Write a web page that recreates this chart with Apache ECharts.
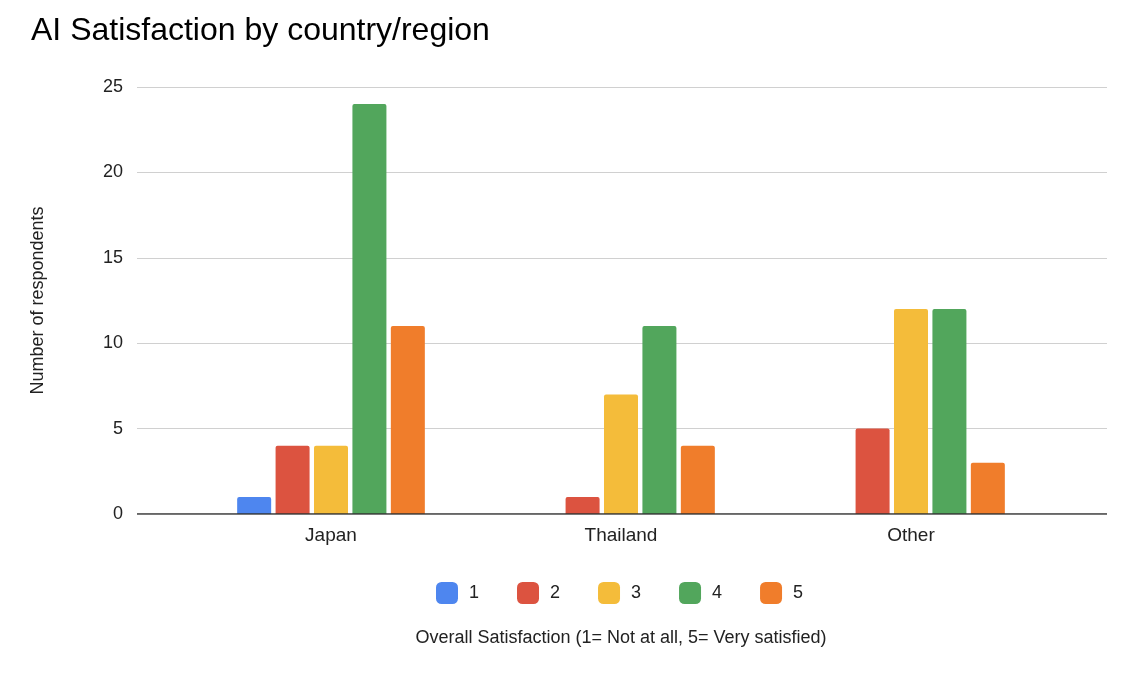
<!DOCTYPE html>
<html>
<head>
<meta charset="utf-8">
<script src="https://cdn.jsdelivr.net/npm/echarts@6/dist/echarts.min.js"></script>
<style>html,body{margin:0;padding:0;background:#fff}#main{width:1129px;height:676px}</style>
</head>
<body>
<div id="main"></div>
<script>
var categories = ['Japan', 'Thailand', 'Other'];
var seriesNames = ['1', '2', '3', '4', '5'];
var values = [
    [1, 0, 0],
    [4, 1, 5],
    [4, 7, 12],
    [24, 11, 12],
    [11, 4, 3]
];
var colors = ['#4e86ef', '#dc5340', '#f4bc3a', '#52a65c', '#f07d2b'];

var chart = echarts.init(document.getElementById('main'));
var font = 'Liberation Sans, Arial, sans-serif';

var series = [];
for (var i = 0; i < seriesNames.length; i++) {
    series.push({
        name: seriesNames[i],
        type: 'bar',
        xAxisIndex: 1,
        yAxisIndex: 1,
        barWidth: 34,
        barGap: '13%',
        itemStyle: { color: colors[i], borderRadius: [2, 2, 0, 0] },
        data: values[i]
    });
}

chart.setOption({
    textStyle: { fontFamily: font },
    title: {
        text: 'AI Satisfaction by country/region',
        left: 26, top: 10,
        textStyle: { fontSize: 32, fontWeight: 'normal', color: '#000', fontFamily: font }
    },
    legend: {
        data: seriesNames,
        top: 577, left: 431,
        icon: 'roundRect', itemWidth: 22, itemHeight: 22, itemGap: 38,
        textStyle: { fontSize: 18, color: '#222', padding: [0, 0, 0, 6] }
    },
    grid: [
        { left: 137, right: 22, top: 87, bottom: 162 },
        { left: 186, right: 73, top: 87, bottom: 162 }
    ],
    xAxis: [
        { type: 'value', gridIndex: 0, show: false, min: 0, max: 1 },
        {
            type: 'category', gridIndex: 1, data: categories,
            axisTick: { show: false }, axisLine: { show: false },
            axisLabel: { fontSize: 19, color: '#222', margin: 12 },
            name: 'Overall Satisfaction (1= Not at all, 5= Very satisfied)',
            nameLocation: 'middle', nameGap: 115,
            nameTextStyle: { fontSize: 18, color: '#222' }
        }
    ],
    yAxis: [
        {
            type: 'value', gridIndex: 0, min: 0, max: 25, interval: 5,
            axisLabel: { fontSize: 18, color: '#222', margin: 14 },
            splitLine: { lineStyle: { color: '#d0d0d0' } },
            axisLine: { show: false }, axisTick: { show: false },
            name: 'Number of respondents', nameLocation: 'middle', nameGap: 90,
            nameTextStyle: { fontSize: 18, color: '#222' }
        },
        { type: 'value', gridIndex: 1, min: 0, max: 25, interval: 5, show: false }
    ],
    series: series.concat([{
        type: 'line', xAxisIndex: 0, yAxisIndex: 0, data: [[0, 0], [1, 0]],
        symbol: 'none', silent: true, lineStyle: { color: '#333', width: 1.5 }
    }])
});
</script>
</body>
</html>
